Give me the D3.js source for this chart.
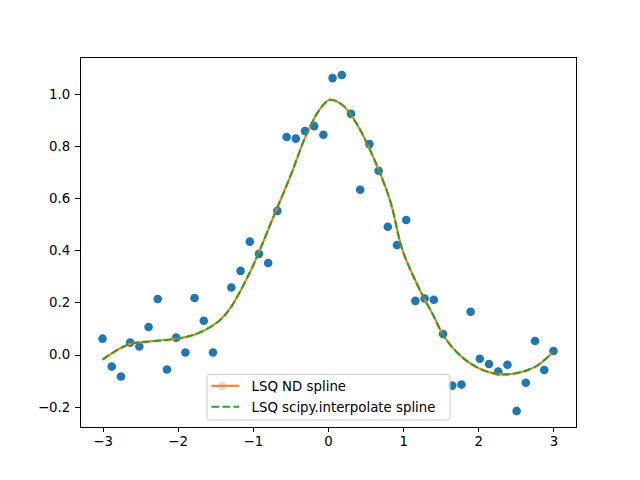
<!DOCTYPE html>
<html lang="en">
  <head>
    <meta charset="UTF-8"/>
    <title>LSQ spline</title>
    <script src="https://d3js.org/d3.v7.min.js"></script>
    <style>
      body { margin: 0; background: #fff; }
      text {
        font-family: 'DejaVu Sans', sans-serif;
        font-size: 13.33px;
        fill: #000;
      }
      .axis path,
      .axis line {
        stroke: #000;
        stroke-width: 1px;
        shape-rendering: crispEdges;
      }
    </style>
  </head>
  <body>
    <script type="text/javascript">

        // noisy samples, 50 points on [-3, 3]
        const xData = d3.range(50).map(i => -3 + i * 6 / 49)
        const yData = [
          0.061, -0.046, -0.084, 0.046, 0.031, 0.106, 0.213, -0.057, 0.065, 0.008,
          0.217, 0.130, 0.008, -0.121, 0.257, 0.321, 0.433, 0.386, 0.351, 0.551,
          0.834, 0.828, 0.857, 0.876, 0.843, 1.060, 1.072, 0.923, 0.632, 0.807,
          0.705, 0.490, 0.420, 0.516, 0.206, 0.215, 0.210, 0.079, -0.119, -0.115,
          0.164, -0.016, -0.036, -0.065, -0.039, -0.216, -0.108, 0.052, -0.059, 0.014
        ]

        // fitted spline
        const splineX = [-3.0, -2.663, -2.351, -2.04, -1.773, -1.463, -1.307, -1.04, -0.907, -0.729,
                         -0.507, -0.284, -0.107, 0.027, 0.204, 0.383, 0.604, 0.827, 0.991, 1.227,
                         1.404, 1.537, 1.76, 1.983, 2.204, 2.37, 2.56, 2.783, 3.0]
        const splineY = [-0.019, 0.038, 0.051, 0.060, 0.077, 0.126, 0.175, 0.315, 0.401, 0.526,
                         0.679, 0.846, 0.941, 0.977, 0.954, 0.884, 0.756, 0.590, 0.401, 0.245,
                         0.149, 0.073, -0.004, -0.049, -0.072, -0.076, -0.068, -0.042, 0.011]

        const xTicks = [-3, -2, -1, 0, 1, 2, 3]
        const yTicks = [-0.2, 0.0, 0.2, 0.4, 0.6, 0.8, 1.0]

        const outerWidth = 640,
              outerHeight = 480,
              margin = ({top: 57.6, right: 64, bottom: 52.8, left: 80}),
              width  = outerWidth - margin.left - margin.right,
              height = outerHeight - margin.top - margin.bottom

        const fmtMinus = s => s.replace("-", "\u2212")

        const svg = d3.select("body").append("svg")
            .attr("width", outerWidth)
            .attr("height", outerHeight)

        const g = svg.append("g")
            .attr("transform", `translate(${margin.left},${margin.top})`)

        const xScale = d3.scaleLinear()
            .domain([-3.3, 3.3])
            .range([0, width])

        const yScale = d3.scaleLinear()
            .domain([-0.2784, 1.1386])
            .range([height, 0])

        const points = xData.map((x, i) => ({x, y: yData[i]}))
        const spline = splineX.map((x, i) => ({x, y: splineY[i]}))

        g.selectAll("circle.pt")
            .data(points)
            .join("circle")
            .attr("class", "pt")
            .attr("cx", d => xScale(d.x))
            .attr("cy", d => yScale(d.y))
            .attr("r", 4.3)
            .attr("fill", "#1f77b4")

        const line = d3.line()
            .x(d => xScale(d.x))
            .y(d => yScale(d.y))
            .curve(d3.curveCatmullRom.alpha(0.5))

        g.append("path")
            .datum(spline)
            .attr("d", line)
            .attr("fill", "none")
            .attr("stroke", "#ff7f0e")
            .attr("stroke-width", 2.08)

        g.append("path")
            .datum(spline)
            .attr("d", line)
            .attr("fill", "none")
            .attr("stroke", "#2ca02c")
            .attr("stroke-width", 2.08)
            .attr("stroke-dasharray", "7.7,3.3")

        // axes
        const xAxisG = g.append("g")
            .attr("class", "axis")
            .attr("transform", `translate(0,${height})`)
            .call(d3.axisBottom(xScale).tickValues(xTicks).tickSize(4.86).tickPadding(4.86)
                  .tickFormat(d => fmtMinus(d3.format("d")(d))))
        xAxisG.select(".domain").remove()

        const yAxisG = g.append("g")
            .attr("class", "axis")
            .call(d3.axisLeft(yScale).tickValues(yTicks).tickSize(4.86).tickPadding(4.86)
                  .tickFormat(d => fmtMinus(d3.format(".1f")(d))))
        yAxisG.select(".domain").remove()

        svg.selectAll(".axis text")
            .attr("font-family", "DejaVu Sans")
            .attr("font-size", 13.33)

        g.append("rect")
            .attr("x", 0).attr("y", 0)
            .attr("width", width).attr("height", height)
            .attr("fill", "none")
            .attr("stroke", "#000")
            .attr("stroke-width", 1)
            .attr("shape-rendering", "crispEdges")

        // legend
        const legendG = svg.append("g")
            .attr("transform", "translate(207,374.5)")

        legendG.append("rect")
            .attr("width", 243)
            .attr("height", 45.5)
            .attr("rx", 2.5)
            .attr("fill", "rgba(255,255,255,0.8)")
            .attr("stroke", "#cccccc")
            .attr("stroke-width", 1)

        const legendItems = [
          {label: "LSQ ND spline", color: "#ff7f0e", dash: null},
          {label: "LSQ scipy.interpolate spline", color: "#2ca02c", dash: "7.7,3.3"}
        ]

        legendItems.forEach((d, i) => {
            const yy = 11.3 + i * 21
            legendG.append("line")
                .attr("x1", 4.5).attr("x2", 32.3)
                .attr("y1", yy).attr("y2", yy)
                .attr("stroke", d.color)
                .attr("stroke-width", 2.08)
                .attr("stroke-dasharray", d.dash)
            legendG.append("text")
                .attr("x", 44.5)
                .attr("y", yy + 4.8)
                .text(d.label)
        })

    </script>
  </body>
</html>
